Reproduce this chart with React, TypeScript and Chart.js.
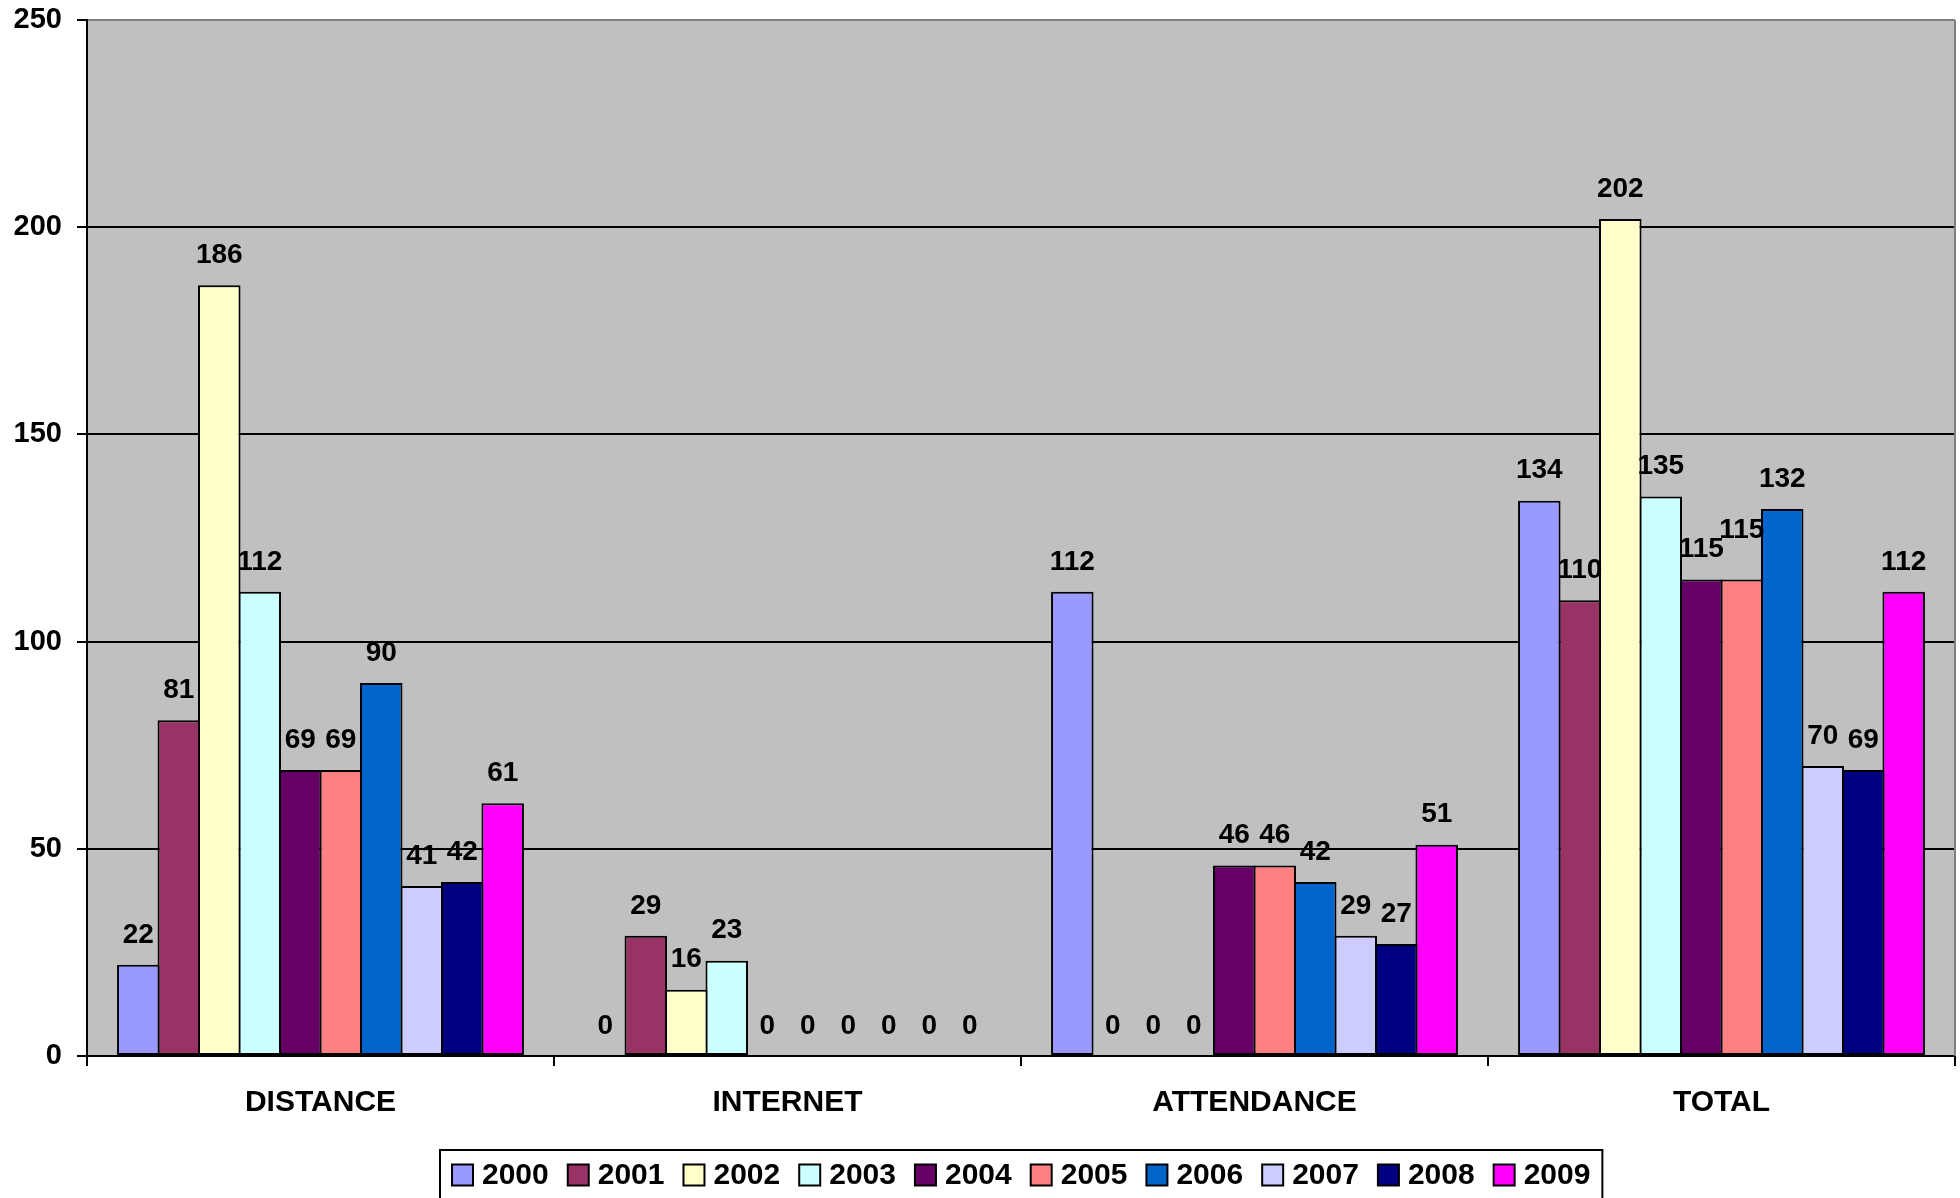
import React, { useEffect, useRef } from "react";
import { Chart, registerables } from "chart.js";

Chart.register(...registerables);

// ---- data ----
const categories = ["DISTANCE", "INTERNET", "ATTENDANCE", "TOTAL"];
const years = ["2000", "2001", "2002", "2003", "2004", "2005", "2006", "2007", "2008", "2009"];
const seriesColors = [
  "#9999FF", "#993366", "#FFFFCC", "#CCFFFF", "#660066",
  "#FF8080", "#0066CC", "#CCCCFF", "#000080", "#FF00FF",
];
const v2000 = [22, 0, 112, 134];
const v2001 = [81, 29, 0, 110];
const v2002 = [186, 16, 0, 202];
const v2003 = [112, 23, 0, 135];
const v2004 = [69, 0, 46, 115];
const v2005 = [69, 0, 46, 115];
const v2006 = [90, 0, 42, 132];
const v2007 = [41, 0, 29, 70];
const v2008 = [42, 0, 27, 69];
const v2009 = [61, 0, 51, 112];
const seriesValues = [v2000, v2001, v2002, v2003, v2004, v2005, v2006, v2007, v2008, v2009];
const yMin = 0;
const yMax = 250;
const yStep = 50;

const FONT = "'Liberation Sans', Arial, Helvetica, sans-serif";

export default function App() {
  const ref = useRef<HTMLCanvasElement>(null);

  useEffect(() => {
    document.body.style.margin = "0";
    const canvas = ref.current;
    if (!canvas) return;

    const bgPlugin = {
      id: "plotBg",
      beforeDraw(chart: any) {
        const { ctx, chartArea: a } = chart;
        ctx.save();
        ctx.fillStyle = "#C0C0C0";
        ctx.fillRect(a.left, a.top, a.right - a.left, a.bottom - a.top);
        ctx.restore();
      },
      beforeDatasetsDraw(chart: any) {
        const { ctx, chartArea: a } = chart;
        ctx.save();
        ctx.strokeStyle = "#808080";
        ctx.lineWidth = 2;
        ctx.beginPath();
        ctx.moveTo(a.right, a.top);
        ctx.lineTo(a.right, a.bottom);
        ctx.stroke();
        ctx.restore();
      },
    };

    const labelPlugin = {
      id: "valueLabels",
      afterDatasetsDraw(chart: any) {
        const ctx = chart.ctx;
        ctx.save();
        ctx.font = `bold 28px ${FONT}`;
        ctx.fillStyle = "#000";
        ctx.textAlign = "center";
        ctx.textBaseline = "middle";
        const placed: Record<number, { l: number; r: number; t: number; b: number }[]> = {};
        const h = 18;
        chart.data.datasets.forEach((ds: any, i: number) => {
          const meta = chart.getDatasetMeta(i);
          meta.data.forEach((bar: any, j: number) => {
            const text = String(ds.data[j]);
            const w = ctx.measureText(text).width;
            let cy = bar.y - 30;
            const list = (placed[j] = placed[j] || []);
            let moved = true;
            let guard = 0;
            while (moved && guard < 20) {
              moved = false;
              guard++;
              for (const p of list) {
                if (bar.x - w / 2 < p.r && bar.x + w / 2 > p.l && cy - h / 2 < p.b && cy + h / 2 > p.t) {
                  cy = p.t - h / 2 - 1;
                  moved = true;
                }
              }
            }
            list.push({ l: bar.x - w / 2, r: bar.x + w / 2, t: cy - h / 2, b: cy + h / 2 });
            ctx.fillText(text, bar.x, cy);
          });
        });
        ctx.restore();
      },
    };

    const legendPlugin = {
      id: "boxLegend",
      afterDraw(chart: any) {
        const { ctx, chartArea: a } = chart;
        ctx.save();
        ctx.font = `bold 30px ${FONT}`;
        const sw = 21;
        const gap = 9;
        const spacing = 19;
        const pad = 12;
        const widths = years.map((y) => ctx.measureText(y).width);
        const total = widths.reduce((s, w) => s + sw + gap + w, 0) + spacing * (years.length - 1);
        const boxW = total + pad * 2;
        const cx = (a.left + a.right) / 2;
        const boxL = Math.round(cx - boxW / 2);
        const boxT = a.bottom + 94;
        ctx.fillStyle = "#FFFFFF";
        ctx.fillRect(boxL, boxT, boxW, 100);
        ctx.strokeStyle = "#000";
        ctx.lineWidth = 2;
        ctx.strokeRect(boxL, boxT, boxW, 100);
        const midY = boxT + 25;
        let x = boxL + pad;
        years.forEach((y, k) => {
          ctx.fillStyle = seriesColors[k];
          ctx.fillRect(x, midY - sw / 2, sw, sw);
          ctx.strokeStyle = "#000";
          ctx.lineWidth = 2;
          ctx.strokeRect(x, midY - sw / 2, sw, sw);
          ctx.fillStyle = "#000";
          ctx.textAlign = "left";
          ctx.textBaseline = "middle";
          ctx.fillText(y, x + sw + gap, midY + 1);
          x += sw + gap + widths[k] + spacing;
        });
        ctx.restore();
      },
    };

    const chart = new Chart(canvas, {
      type: "bar",
      data: {
        labels: categories,
        datasets: years.map((y, k) => ({
          label: y,
          data: seriesValues[k],
          backgroundColor: seriesColors[k],
          borderColor: "#000",
          borderWidth: (c: any) => (c.raw === 0 ? 0 : 2),
          borderSkipped: false,
          categoryPercentage: 0.867,
          barPercentage: 1.05,
        })),
      },
      options: {
        animation: false,
        responsive: false,
        devicePixelRatio: 1,
        layout: { padding: { top: 20, right: 5, left: 0, bottom: 0 } },
        plugins: {
          legend: { display: false },
          tooltip: { enabled: false },
          title: { display: false },
        },
        scales: {
          x: {
            afterFit(scale: any) {
              scale.height = 142;
              scale.paddingLeft = 0;
              scale.paddingRight = 0;
            },
            grid: {
              display: true,
              offset: true,
              drawOnChartArea: false,
              drawTicks: true,
              tickLength: 10,
              color: "#000",
              tickColor: "#000",
              lineWidth: 2,
            },
            border: { display: true, color: "#000", width: 2 },
            ticks: {
              color: "#000",
              font: { family: FONT, size: 30, weight: "bold" },
              padding: 19,
              maxRotation: 0,
              autoSkip: false,
            },
          },
          y: {
            min: yMin,
            max: yMax,
            afterFit(scale: any) {
              scale.width = 87;
              scale.paddingTop = 0;
              scale.paddingBottom = 0;
            },
            grid: {
              display: true,
              drawTicks: true,
              tickLength: 10,
              lineWidth: 2,
              color: (c: any) => (c.tick && c.tick.value === yMax ? "#808080" : "#000"),
              tickColor: "#000",
            },
            border: { display: true, color: "#000", width: 2 },
            ticks: {
              stepSize: yStep,
              color: "#000",
              font: { family: FONT, size: 29, weight: "bold" },
              padding: 15,
            },
          },
        },
      } as any,
      plugins: [bgPlugin, labelPlugin, legendPlugin],
    });

    return () => chart.destroy();
  }, []);

  return (
    <div style={{ width: 1960, height: 1198, position: "relative", overflow: "hidden" }}>
      <canvas ref={ref} width={1960} height={1198} style={{ display: "block", width: 1960, height: 1198 }} />
    </div>
  );
}
